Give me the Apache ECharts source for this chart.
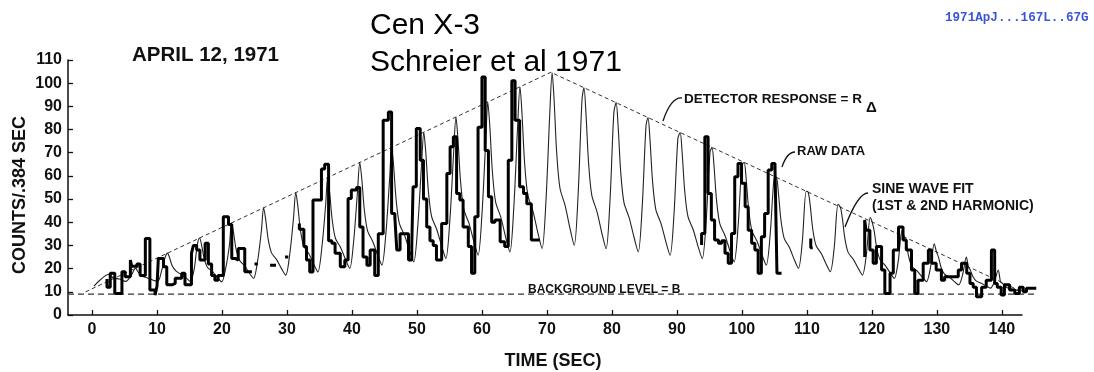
<!DOCTYPE html>
<html>
<head>
<meta charset="utf-8">
<title>Cen X-3, April 12, 1971</title>
<script src="https://cdn.jsdelivr.net/npm/echarts@6/dist/echarts.min.js"></script>
<style>
  html, body { margin: 0; padding: 0; background: #fff; }
  #chart { width: 1094px; height: 372px; }
</style>
</head>
<body>
<div id="chart"></div>
<script>
// x axis ticks (sec)
var timeTicks = [0, 10, 20, 30, 40, 50, 60, 70, 80, 90, 100, 110, 120, 130, 140];

// detector response R_delta (triangle)
var responseT = [-1, 70.6, 143.5];
var responseV = [10, 104.7, 9.5];

// background level B
var backgroundT = [-3.7, 145.5];
var backgroundV = [9, 9];

// sine wave fit (1st & 2nd harmonic), [sec, counts]
var sineFit = [
  [0.3,12.5],[1.2,15],[2.5,17.5],[3.3,16],[4.2,15.5],[5.2,14.5],[6.0,17],
  [6.7,20.2],[7.1,18.5],[7.7,16.8],[8.5,16],[9.4,15],[10.1,14.5],[10.7,19],[11.2,24.5],
  [11.6,26.7],[11.9,25],[12.3,21.5],[12.9,19],[13.7,17.5],[14.5,16],[15.1,14.5],[15.7,19.5],[16.2,30.3],
  [16.55,33.2],[16.85,30.3],[17.25,24.5],[17.75,20.6],[18.55,18.7],[19.35,16.0],[19.95,14.3],[20.55,19.9],[21.15,30.3],
  [21.45,39.7],[21.75,36.0],[22.15,28.6],[22.65,23.7],[23.45,21.3],[24.25,17.9],[24.85,15.8],[25.45,22.8],[26.05,36.0],
  [26.4,46.2],[26.7,41.7],[27.1,32.8],[27.6,26.9],[28.4,23.9],[29.2,19.8],[29.8,17.2],[30.4,25.7],[31.0,41.7],
  [31.35,52.8],[31.65,47.5],[32.05,37.0],[32.55,30.0],[33.35,26.5],[34.15,21.7],[34.75,18.6],[35.35,28.7],[35.95,47.5],
  [36.25,59.3],[36.55,53.3],[36.95,41.2],[37.45,33.1],[38.25,29.1],[39.05,23.6],[39.65,20.1],[40.25,31.6],[40.85,53.3],
  [41.2,65.8],[41.5,59.0],[41.9,45.4],[42.4,36.3],[43.2,31.7],[44.0,25.5],[44.6,21.5],[45.2,34.6],[45.8,59.0],
  [46.1,72.3],[46.4,64.7],[46.8,49.5],[47.3,39.4],[48.1,34.3],[48.9,27.4],[49.5,22.9],[50.1,37.5],[50.7,64.7],
  [51.05,78.8],[51.35,70.4],[51.75,53.7],[52.25,42.5],[53.05,36.9],[53.85,29.2],[54.45,24.4],[55.05,40.4],[55.65,70.4],
  [56.0,85.4],[56.3,76.2],[56.7,57.9],[57.2,45.7],[58.0,39.6],[58.8,31.2],[59.4,25.8],[60.0,43.4],[60.6,76.2],
  [60.9,91.9],[61.2,82.0],[61.6,62.1],[62.1,48.8],[62.9,42.2],[63.7,33.0],[64.3,27.2],[64.9,46.3],[65.5,82.0],
  [65.85,98.4],[66.15,87.7],[66.55,66.2],[67.05,51.9],[67.85,44.8],[68.65,34.9],[69.25,28.7],[69.85,49.2],[70.45,87.7],
  [70.8,104.5],[71.1,93.0],[71.5,70.1],[72.0,54.8],[72.8,47.2],[73.6,36.7],[74.2,30.0],[74.8,52.0],[75.4,93.0],
  [75.7,98.0],[76.0,87.3],[76.4,66.0],[76.9,51.7],[77.7,44.6],[78.5,34.8],[79.1,28.6],[79.7,49.1],[80.3,87.3],
  [80.65,91.6],[80.95,81.7],[81.35,61.9],[81.85,48.6],[82.65,42.0],[83.45,33.0],[84.05,27.2],[84.65,46.2],[85.25,81.7],
  [85.55,85.2],[85.85,76.1],[86.25,57.8],[86.75,45.6],[87.55,39.5],[88.35,31.1],[88.95,25.8],[89.55,43.3],[90.15,76.1],
  [90.5,78.7],[90.8,70.3],[91.2,53.6],[91.7,42.5],[92.5,36.9],[93.3,29.2],[93.9,24.3],[94.5,40.4],[95.1,70.3],
  [95.4,72.3],[95.7,64.7],[96.1,49.5],[96.6,39.4],[97.4,34.3],[98.2,27.4],[98.8,22.9],[99.4,37.5],[100.0,64.7],
  [100.35,65.8],[100.65,59.0],[101.05,45.4],[101.55,36.3],[102.35,31.7],[103.15,25.5],[103.75,21.5],[104.35,34.6],[104.95,59.0],
  [105.3,59.4],[105.6,53.4],[106.0,41.3],[106.5,33.2],[107.3,29.2],[108.1,23.6],[108.7,20.1],[109.3,31.7],[109.9,53.4],
  [110.2,53.0],[110.5,47.7],[110.9,37.2],[111.4,30.1],[112.2,26.6],[113.0,21.8],[113.6,18.7],[114.2,28.8],[114.8,47.7],
  [115.15,46.5],[115.45,42.0],[115.85,33.0],[116.35,27.0],[117.15,24.0],[117.95,19.9],[118.55,17.3],[119.15,25.9],[119.75,42.0],
  [120.05,40.1],[120.35,36.4],[120.75,28.9],[121.25,23.9],[122.05,21.4],[122.85,18.0],[123.45,15.8],[124.05,23.0],[124.65,36.4],
  [125.0,33.7],[125.3,30.7],[125.7,24.8],[126.2,20.9],[127.0,18.9],[127.8,16.2],[128.4,14.4],[129.0,20.1],[129.6,30.7],
  [129.95,27.2],[130.25,25.0],[130.65,20.6],[131.15,17.7],[131.95,16.3],[132.75,14.3],[133.35,13.0],[133.95,17.2],[134.55,25.0],
  [134.85,20.8],[135.15,19.4],[135.55,16.6],[136.05,14.7],[136.85,13.7],[137.65,12.4],[138.25,11.6],[138.85,14.3],[139.45,19.4],
  [139.8,14.3],[140.1,13.7],[140.5,12.4],[141.0,11.5],[141.8,11.1],[142.6,10.5],[143.2,10.8]
];

// raw data, pieces of the record, [bin start sec, counts]
var rawData = [
  [[2.3,15.5],[2.8,12],[3.5,18],[4.6,9.3],[5.1,18.7],[5.9,16.5],[6.1,23.7],[6.9,21],[7.4,22],
   [8.2,17],[8.9,33],[9.7,10.8],[10.0,8.6],[10.2,12.5],[11.0,24.4],[11.5,20.8],[12.3,13],
   [12.8,13.6],[13.8,15.8],[14.3,18],[15.3,13],[15.6,26.6],[16.1,30],[16.6,28],[17.4,23.7],
   [17.9,31],[18.4,22],[18.9,17],[19.4,15],[20.2,17],[21.0,42.4],[21.5,39],[22.0,24.4],
   [22.5,23.7],[23.5,28.7],[24.05,18.7],[24.6,18.7]],
  [[25.0,22],[25.5,22]],
  [[27.4,21.5],[28.3,21.5]],
  [[29.7,25],[30.2,25]],
  [[31.9,39.5],[32.6,37],[33.0,29.5],[33.5,23.7],[34.0,18.5],[35.3,49.6],[35.8,63],[36.4,65],
   [36.9,32],[37.4,31],[38.2,26.6],[38.9,20.8],[39.4,23.7],[39.9,50.3],[40.7,53.9],[41.2,55],
   [41.7,38],[42.3,25],[42.8,21.5],[43.5,28],[44.05,17],[44.8,35],[45.6,84],[46.1,87.6],
   [46.6,43.8],[46.9,42],[47.4,28],[48.7,35],[49.2,23.7],[49.4,29.5],[49.9,55.3],[50.5,80.5],
   [51.0,66.8],[51.5,50],[52.0,38],[52.5,32],[53.0,30],[53.8,23.7],[54.6,39.5],[55.1,61],
   [55.6,72.6],[56.1,76.9],[56.6,52.4],[57.1,49.6],[57.9,38],[58.4,29.5],[58.9,18],[59.4,42.4],
   [60.0,81],[60.5,102.7],[61.0,71],[61.5,51],[62.0,40],[62.8,41],[63.5,31.6],[64.05,29.5],
   [64.6,66.8],[65.1,101],[65.8,84],[66.4,55.3],[66.9,52.4],[67.6,48],[68.15,32.3],[68.9,32.3]],
  [[93.8,30.2],[94.3,35.2],[94.8,76.9],[95.3,52.4],[95.8,41],[96.4,32.3],[96.9,31],[97.4,32],
   [97.9,26.6],[98.4,22.3],[98.9,35.2],[99.4,59.6],[99.95,65.4],[100.5,56.8],[100.97,46.7],
   [101.5,36.6],[102.0,30.9],[102.5,28],[103.0,18],[103.5,33.8],[104.05,43.8],[104.6,62.5],
   [105.1,65.4],[105.4,63],[105.9,18],[106.1,18]],
  [[110.6,33],[110.9,29],[111.0,29]],
  [[118.9,25],[119.1,41],[119.7,36.6],[120.2,28],[120.7,22.3],[121.5,29.5],[122.0,19.4],
   [122.8,9.3],[123.3,18],[124.1,28],[124.8,38],[125.3,32.3],[126.1,28],[126.6,19.4],[127.1,9.3],
   [127.9,15],[128.7,22.3],[129.2,28],[129.9,22.3],[130.7,19.4],[131.2,15],[131.7,16.5],
   [132.5,16.5],[133.3,16.5],[133.8,19.4],[134.6,22.3],[135.1,18],[135.6,13.6],[136.1,12],
   [136.9,7.9],[137.6,12],[138.4,15],[138.9,28],[139.3,13.6],[139.9,12],[140.4,8.6],[141.2,13],
   [142.0,10.8],[142.7,9.3],[143.3,12],[143.8,10],[144.3,11.5],[145.3,11.5]]
];

var INK = '#111';
var FONT = '"Liberation Sans", Arial, sans-serif';

function zip(xs, ys) {
  return xs.map(function (x, i) { return [x, ys[i]]; });
}

var chart = echarts.init(document.getElementById('chart'), null, { renderer: 'canvas' });

// grid 0 holds the curves: same scale as the drawn axes but a bit wider,
// so the dashed lines and the raw record can run past the end of the time axis
var series = [
  { // background level
    type: 'line',
    data: zip(backgroundT, backgroundV),
    symbol: 'none',
    silent: true,
    lineStyle: { color: '#333', width: 1.3, type: [6, 4] }
  },
  { // detector response
    type: 'line',
    data: zip(responseT, responseV),
    symbol: 'none',
    silent: true,
    lineStyle: { color: '#333', width: 1, type: [4, 3] }
  },
  { // sine wave fit
    type: 'line',
    data: sineFit,
    symbol: 'none',
    smooth: 0.3,
    silent: true,
    lineStyle: { color: '#222', width: 1.1 }
  }
];
rawData.forEach(function (seg) {
  series.push({
    type: 'line',
    data: seg,
    step: 'start',
    symbol: 'none',
    silent: true,
    lineStyle: { color: '#000', width: 3 }
  });
});

var option = {
  animation: false,
  backgroundColor: '#fff',
  grid: [
    { left: 68, right: 53.2, top: 60, bottom: 57, outerBoundsMode: 'none' },
    { left: 68, right: 72, top: 60, bottom: 57, outerBoundsMode: 'none' }
  ],
  xAxis: [{
    gridIndex: 0,
    type: 'value',
    min: -3.7,
    max: 146,
    show: false
  }, {
    gridIndex: 1,
    type: 'value',
    min: -3.7,
    max: 143.1,
    name: 'TIME (SEC)',
    nameLocation: 'middle',
    nameGap: 37,
    nameTextStyle: { color: INK, fontSize: 18, fontWeight: 'bold', fontFamily: FONT, padding: [0, 0, 0, 16] },
    axisLine: { onZero: false, lineStyle: { color: INK, width: 1.5 } },
    axisTick: { inside: true, length: 5, customValues: timeTicks, lineStyle: { color: INK, width: 1.3 } },
    axisLabel: { customValues: timeTicks, margin: 7, color: INK, fontSize: 16, fontWeight: 'bold', fontFamily: FONT },
    splitLine: { show: false }
  }],
  yAxis: [{
    gridIndex: 0,
    type: 'value',
    min: 0,
    max: 110,
    show: false
  }, {
    gridIndex: 1,
    type: 'value',
    min: 0,
    max: 110,
    interval: 10,
    axisLine: { show: true, onZero: false, lineStyle: { color: INK, width: 1.5 } },
    axisTick: { show: true, inside: true, length: 5, lineStyle: { color: INK, width: 1.3 } },
    axisLabel: { margin: 6, color: INK, fontSize: 16, fontWeight: 'bold', fontFamily: FONT },
    splitLine: { show: false }
  }],
  series: series,
  graphic: [
    { type: 'text', x: 20, y: 195, rotation: Math.PI / 2,
      style: { text: 'COUNTS/.384 SEC', fill: INK, fontSize: 18, fontWeight: 'bold', fontFamily: FONT,
               align: 'center', verticalAlign: 'middle', textAlign: 'center', textVerticalAlign: 'middle' } },
    { type: 'text', left: 132, top: 45, style: { text: 'APRIL 12, 1971', fill: INK, fontSize: 20.5, fontWeight: 'bold', fontFamily: FONT } },
    { type: 'text', left: 370, top: 11, style: { text: 'Cen X-3', fill: '#000', fontSize: 30, fontFamily: FONT } },
    { type: 'text', left: 370, top: 48, style: { text: 'Schreier et al 1971', fill: '#000', fontSize: 30, fontFamily: FONT } },
    { type: 'text', left: 945, top: 11, style: { text: '1971ApJ...167L..67G', fill: '#3a55d8', fontSize: 12.6, fontWeight: 'bold', fontFamily: '"Liberation Mono", "DejaVu Sans Mono", monospace' } },
    { type: 'text', left: 684, top: 92, style: { text: 'DETECTOR RESPONSE = R', fill: INK, fontSize: 13.5, fontWeight: 'bold', fontFamily: FONT } },
    { type: 'text', left: 866, top: 100, style: { text: '\u0394', fill: INK, fontSize: 15, fontWeight: 'bold', fontFamily: FONT } },
    { type: 'text', left: 797, top: 145, style: { text: 'RAW DATA', fill: INK, fontSize: 13, fontWeight: 'bold', fontFamily: FONT } },
    { type: 'text', left: 872, top: 182, style: { text: 'SINE WAVE FIT', fill: INK, fontSize: 14, fontWeight: 'bold', fontFamily: FONT } },
    { type: 'text', left: 872, top: 199, style: { text: '(1ST & 2ND HARMONIC)', fill: INK, fontSize: 14, fontWeight: 'bold', fontFamily: FONT } },
    { type: 'text', left: 528, top: 284, style: { text: 'BACKGROUND LEVEL = B', fill: INK, fontSize: 12, fontWeight: 'bold', fontFamily: FONT } },
    // leader lines
    { type: 'bezierCurve', shape: { x1: 682, y1: 98, cpx1: 671, cpy1: 97, x2: 663, y2: 121 }, style: { stroke: INK, lineWidth: 1.3, fill: null } },
    { type: 'bezierCurve', shape: { x1: 795, y1: 152, cpx1: 787, cpy1: 152, x2: 782, y2: 167 }, style: { stroke: INK, lineWidth: 1.3, fill: null } },
    { type: 'bezierCurve', shape: { x1: 868, y1: 193, cpx1: 858, cpy1: 193, x2: 845, y2: 227 }, style: { stroke: INK, lineWidth: 1.3, fill: null } }
  ]
};

chart.setOption(option);
</script>
</body>
</html>
